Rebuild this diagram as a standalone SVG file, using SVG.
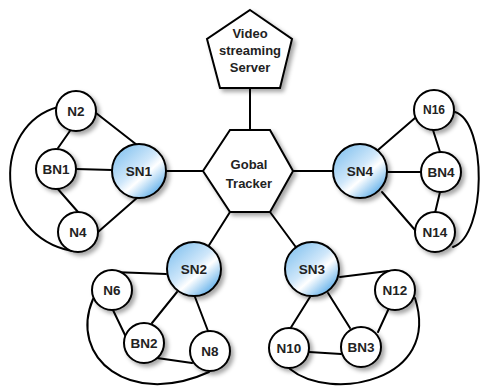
<svg xmlns="http://www.w3.org/2000/svg" width="482" height="388" viewBox="0 0 482 388">
<style>
.e{stroke:#000;stroke-width:2;fill:none;stroke-linecap:round}
.n{fill:#fff;stroke:#000;stroke-width:2;filter:url(#sh)}
.s{fill:url(#g);stroke:#000;stroke-width:2;filter:url(#sh)}
text{font-family:"Liberation Sans",Arial,sans-serif;font-weight:bold;font-size:13.5px;fill:#222;text-anchor:middle;dominant-baseline:central}
.t{font-size:13px}
</style>
<defs>
<filter id="sh" x="-30%" y="-30%" width="170%" height="170%">
<feDropShadow dx="3" dy="3" stdDeviation="2.2" flood-color="#000" flood-opacity="0.35"/>
</filter>
<linearGradient id="g" x1="0.15" y1="0.1" x2="0.85" y2="0.9">
<stop offset="0" stop-color="#8cc6f0"/>
<stop offset="0.45" stop-color="#cfe7fa"/>
<stop offset="0.62" stop-color="#ffffff"/>
<stop offset="1" stop-color="#62b0ea"/>
</linearGradient>
</defs>
<g id="connectors">
<line class="e" x1="250" y1="88" x2="250" y2="130"/>
<line class="e" x1="166" y1="171" x2="203" y2="171"/>
<line class="e" x1="293" y1="171" x2="333" y2="171"/>
<line class="e" x1="230" y1="212" x2="194" y2="269"/>
<line class="e" x1="270" y1="212" x2="312" y2="269"/>
<line class="e" x1="96" y1="113" x2="137" y2="145"/>
<line class="e" x1="72" y1="128" x2="58" y2="148"/>
<line class="e" x1="76" y1="169" x2="112" y2="170"/>
<line class="e" x1="57" y1="188" x2="78" y2="212"/>
<line class="e" x1="98" y1="232" x2="138" y2="197"/>
<path class="e" d="M58 107 C-8 125,-8 235,72 251"/>
<line class="e" x1="378" y1="150" x2="415" y2="118"/>
<line class="e" x1="388" y1="172" x2="421" y2="172"/>
<line class="e" x1="382" y1="192" x2="415" y2="230"/>
<line class="e" x1="433" y1="130" x2="440" y2="152"/>
<line class="e" x1="440" y1="192" x2="435" y2="213"/>
<path class="e" d="M455 112 C487 122,487 235,453 247"/>
<line class="e" x1="113" y1="272" x2="166" y2="274"/>
<line class="e" x1="177" y1="292" x2="152" y2="323"/>
<line class="e" x1="195" y1="297" x2="208" y2="331"/>
<line class="e" x1="112" y1="308" x2="125" y2="335"/>
<line class="e" x1="157" y1="358" x2="192" y2="363"/>
<path class="e" d="M93 299 C68 358,130 408,209 372"/>
<line class="e" x1="340" y1="277" x2="388" y2="271"/>
<line class="e" x1="310" y1="297" x2="290" y2="329"/>
<line class="e" x1="328" y1="293" x2="350" y2="328"/>
<line class="e" x1="309" y1="352" x2="341" y2="354"/>
<line class="e" x1="378" y1="332" x2="389" y2="308"/>
<path class="e" d="M290 369 C330 402,442 382,415 298"/>
</g>
<g id="server"><polygon class="n" points="250,10 292,39 280,88 220,88 207,39"/>
<text class="t" x="250" y="33">Video</text><text class="t" x="250" y="50">streaming</text><text class="t" x="250" y="67">Server</text></g>
<g id="tracker"><polygon class="n" points="230,130 270,130 293,171 270,212 230,212 203,171"/>
<text class="t" x="249" y="164">Gobal</text><text class="t" x="249" y="183">Tracker</text></g>
<g id="SN1"><circle class="s" cx="139" cy="171" r="27"/><text x="139" y="171">SN1</text></g>
<g id="SN4"><circle class="s" cx="360" cy="171" r="27"/><text x="360" y="171">SN4</text></g>
<g id="SN2"><circle class="s" cx="194" cy="269" r="27"/><text x="194" y="269">SN2</text></g>
<g id="SN3"><circle class="s" cx="312" cy="269" r="27"/><text x="312" y="269">SN3</text></g>
<g id="N2"><circle class="n" cx="76" cy="111" r="20"/><text x="76" y="111">N2</text></g>
<g id="BN1"><circle class="n" cx="56" cy="169" r="20"/><text x="56" y="169">BN1</text></g>
<g id="N4"><circle class="n" cx="78" cy="232" r="20"/><text x="78" y="232">N4</text></g>
<g id="N16"><circle class="n" cx="434" cy="110" r="20"/><text x="434" y="110" style="font-size:12px">N16</text></g>
<g id="BN4"><circle class="n" cx="441" cy="172" r="20"/><text x="441" y="172">BN4</text></g>
<g id="N14"><circle class="n" cx="435" cy="232" r="20"/><text x="435" y="232">N14</text></g>
<g id="N6"><circle class="n" cx="112" cy="290" r="20"/><text x="112" y="290">N6</text></g>
<g id="BN2"><circle class="n" cx="144" cy="343" r="20"/><text x="144" y="343">BN2</text></g>
<g id="N8"><circle class="n" cx="210" cy="351" r="20"/><text x="210" y="351">N8</text></g>
<g id="N12"><circle class="n" cx="395" cy="290" r="20"/><text x="395" y="290">N12</text></g>
<g id="BN3"><circle class="n" cx="361" cy="347" r="20"/><text x="361" y="347">BN3</text></g>
<g id="N10"><circle class="n" cx="289" cy="348" r="20"/><text x="289" y="348">N10</text></g>
</svg>
